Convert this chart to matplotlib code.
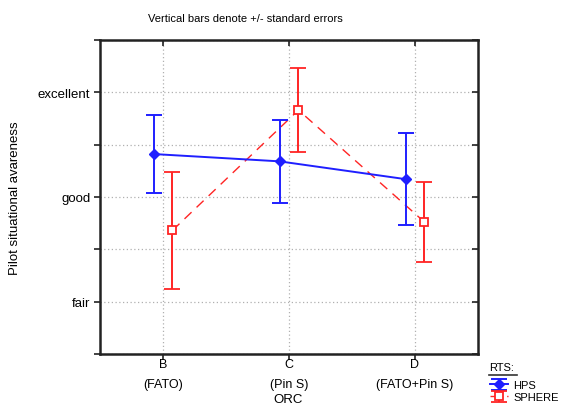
import matplotlib.pyplot as plt
from matplotlib.lines import Line2D

plt.rcParams["font.family"] = ["Liberation Sans", "DejaVu Sans"]

# group means and standard errors per ORC condition
orc_labels = ["B\n(FATO)", "C\n(Pin S)", "D\n(FATO+Pin S)"]
orc_pos = [1, 2, 3]

hps_mean = [3.41, 3.34, 3.17]
hps_se = [0.37, 0.40, 0.44]

sphere_mean = [2.68, 3.83, 2.76]
sphere_se = [0.56, 0.40, 0.38]

rating_ticks = [2, 3, 4]
rating_labels = ["fair", "good", "excellent"]

BLUE = "#1f1fff"
RED = "#ff2424"
OFFSET = 0.075
RECT = [0.177, 0.126, 0.669, 0.773]


def draw_chart():
    fig = plt.figure(figsize=(5.65, 4.06), dpi=100)
    ax = fig.add_axes(RECT)

    xh = [x - OFFSET for x in orc_pos]
    xs = [x + OFFSET for x in orc_pos]

    hps = ax.errorbar(xh, hps_mean, yerr=hps_se, color=BLUE, lw=1.4,
                      marker="D", ms=5, mfc=BLUE, mec=BLUE,
                      capsize=5.5, capthick=1.4, elinewidth=1.4, zorder=4)
    sph = ax.errorbar(xs, sphere_mean, yerr=sphere_se, color=RED, lw=1.0,
                      ls=(0, (7, 5)), marker="s", ms=6, mfc="white", mec=RED,
                      mew=1.3, capsize=5.5, capthick=1.4, elinewidth=1.4, zorder=3)
    sph[2][0].set_linestyle("solid")

    ax.set_xlim(0.5, 3.5)
    ax.set_ylim(1.5, 4.5)
    ax.set_xticks(orc_pos)
    ax.set_xticklabels(orc_labels, fontsize=9, linespacing=1.85)
    yt = [1.5, 2, 2.5, 3, 3.5, 4, 4.5]
    ax.set_yticks(yt)
    ax.set_yticklabels([rating_labels[rating_ticks.index(v)] if v in rating_ticks else ""
                        for v in yt], fontsize=9.5)

    ax.grid(True, ls=(0, (1, 2)), color="#b0b0b0", lw=0.9)
    for s in ax.spines.values():
        s.set_linewidth(1.8)
        s.set_color("#222222")
    ax.tick_params(axis="both", length=4, width=1.2, color="#222222",
                   direction="out", pad=3)
    ax.tick_params(axis="x", pad=-1)

    # overlay carrying the inward ticks on the top and right frame
    ov = fig.add_axes(RECT, frameon=False, sharex=ax, sharey=ax)
    ov.patch.set_visible(False)
    ov.tick_params(direction="in", length=4, width=1.2, color="#222222",
                   left=False, bottom=False, top=True, right=True,
                   labelleft=False, labelbottom=False)

    ax.set_ylabel("Pilot situational avareness", fontsize=9.5)
    ax.yaxis.set_label_coords(-0.21, 0.5)
    fig.text(0.51, 0.0, "ORC", ha="center", va="bottom", fontsize=9.5)
    fig.text(0.435, 0.953, "Vertical bars denote +/- standard errors",
             ha="center", va="center", fontsize=8)

    # legend with underlined heading
    fig.text(0.866, 0.094, "RTS:", fontsize=8, ha="left", va="center")
    fig.add_artist(Line2D([0.866, 0.915], [0.074, 0.074], color="#333333", lw=1.2))
    fig.legend([hps, sph], ["HPS", "SPHERE"], loc="upper left",
               bbox_to_anchor=(0.855, 0.078), frameon=False, fontsize=8,
               handlelength=1.6, handletextpad=0.5, labelspacing=0.2,
               borderpad=0.1)

    return fig


if __name__ == "__main__":
    figure = draw_chart()
    figure.savefig("out.png", dpi=100)
